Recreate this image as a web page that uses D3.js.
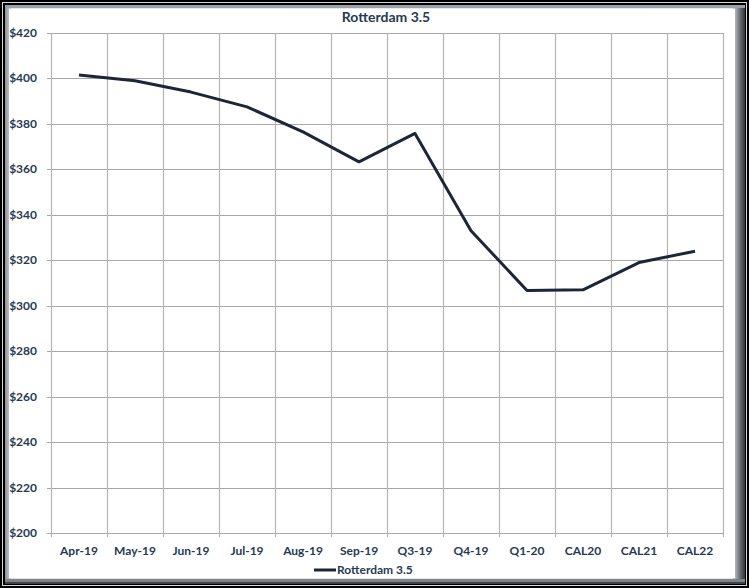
<!DOCTYPE html>
<html>
<head>
<meta charset="utf-8">
<script src="https://cdn.jsdelivr.net/npm/d3@7/dist/d3.min.js"></script>
<style>
  html, body { margin: 0; padding: 0; background: #000; }
  svg { display: block; }
  text { font-family: "Lato", "Open Sans", sans-serif; font-weight: bold; fill: #263a54; }
</style>
</head>
<body>
<script>
// Forward price curve, Rotterdam 3.5
const categories = ["Apr-19", "May-19", "Jun-19", "Jul-19", "Aug-19", "Sep-19",
                    "Q3-19", "Q4-19", "Q1-20", "CAL20", "CAL21", "CAL22"];
const prices = [401.5, 399, 394, 387.5, 376.5, 363.3, 375.8, 333, 306.7, 307, 319, 324];
const yTicks = [200, 220, 240, 260, 280, 300, 320, 340, 360, 380, 400, 420];
const seriesName = "Rotterdam 3.5";

const W = 749, H = 588;
const svg = d3.select("body").append("svg").attr("width", W).attr("height", H);

// Frame: black outer edge, thin light rule, bevelled grey panel
svg.append("rect").attr("x", 0).attr("y", 0).attr("width", W).attr("height", H).attr("fill", "#000");
svg.append("rect").attr("x", 2.5).attr("y", 2.5).attr("width", W - 5).attr("height", H - 5)
  .attr("fill", "none").attr("stroke", "#d8d8d8").attr("stroke-width", 1);
const defs = svg.append("defs");
const gH = defs.append("linearGradient").attr("id", "bevelH").attr("x1", 0).attr("x2", 1).attr("y1", 0).attr("y2", 0);
gH.append("stop").attr("offset", "0%").attr("stop-color", "#8a9098");
gH.append("stop").attr("offset", "1%").attr("stop-color", "#e4e6ea");
gH.append("stop").attr("offset", "98.2%").attr("stop-color", "#e8e8ea");
gH.append("stop").attr("offset", "99.3%").attr("stop-color", "#6b7078");
gH.append("stop").attr("offset", "100%").attr("stop-color", "#30343a");
svg.append("rect").attr("x", 5).attr("y", 5).attr("width", 740).attr("height", 579).attr("fill", "url(#bevelH)");
svg.append("rect").attr("x", 5).attr("y", 579).attr("width", 740).attr("height", 5).attr("fill", "#7e838a");
svg.append("rect").attr("x", 5).attr("y", 582).attr("width", 740).attr("height", 2).attr("fill", "#3e434a");
svg.append("rect").attr("x", 5).attr("y", 5).attr("width", 740).attr("height", 3).attr("fill", "#9aa0a8");
svg.append("rect").attr("x", 9).attr("y", 9).attr("width", 726).attr("height", 569).attr("fill", "#fff");

// Plot area
const plot = { left: 51, right: 723, top: 33, bottom: 533 };
const x = d3.scaleBand().domain(categories).range([plot.left, plot.right]).paddingInner(0).paddingOuter(0);
const y = d3.scaleLinear().domain([200, 420]).range([plot.bottom, plot.top]);

const grid = svg.append("g");
// horizontal gridlines with small outside ticks
grid.selectAll("line.h").data(yTicks).join("line")
  .attr("x1", plot.left - 4).attr("x2", plot.right)
  .attr("y1", d => Math.round(y(d)) + 0.5).attr("y2", d => Math.round(y(d)) + 0.5)
  .attr("stroke", "#a8a8a8").attr("stroke-width", 1.2);
// vertical gridlines at category boundaries
const bounds = categories.map(c => x(c)).concat([plot.right]);
grid.selectAll("line.v").data(bounds).join("line")
  .attr("x1", d => Math.round(d) + 0.5).attr("x2", d => Math.round(d) + 0.5)
  .attr("y1", plot.top).attr("y2", plot.bottom + 4)
  .attr("stroke", "#b4b4b4").attr("stroke-width", 1.2);

// Y axis labels
svg.append("g").selectAll("text").data(yTicks).join("text")
  .attr("x", plot.left - 14).attr("y", d => y(d) + 4)
  .attr("text-anchor", "end").attr("font-size", 12)
  .text(d => "$" + d);

// X axis labels
svg.append("g").selectAll("text").data(categories).join("text")
  .attr("x", d => x(d) + x.bandwidth() / 2).attr("y", 555)
  .attr("text-anchor", "middle").attr("font-size", 12)
  .text(d => d);

// Title
svg.append("text").attr("x", (plot.left + plot.right) / 2 - 1).attr("y", 22)
  .attr("text-anchor", "middle").attr("font-size", 14).text(seriesName);

// Series line
const line = d3.line()
  .x((d, i) => x(categories[i]) + x.bandwidth() / 2)
  .y(d => y(d));
svg.append("path").datum(prices)
  .attr("d", line).attr("fill", "none")
  .attr("stroke", "#1c2638").attr("stroke-width", 3)
  .attr("stroke-linejoin", "round");

// Legend
const lg = svg.append("g").attr("transform", "translate(314,570)");
lg.append("line").attr("x1", 0).attr("x2", 22).attr("y1", 0).attr("y2", 0)
  .attr("stroke", "#1c2638").attr("stroke-width", 3);
lg.append("text").attr("x", 23).attr("y", 4).attr("font-size", 12).text(seriesName);
</script>
</body>
</html>
